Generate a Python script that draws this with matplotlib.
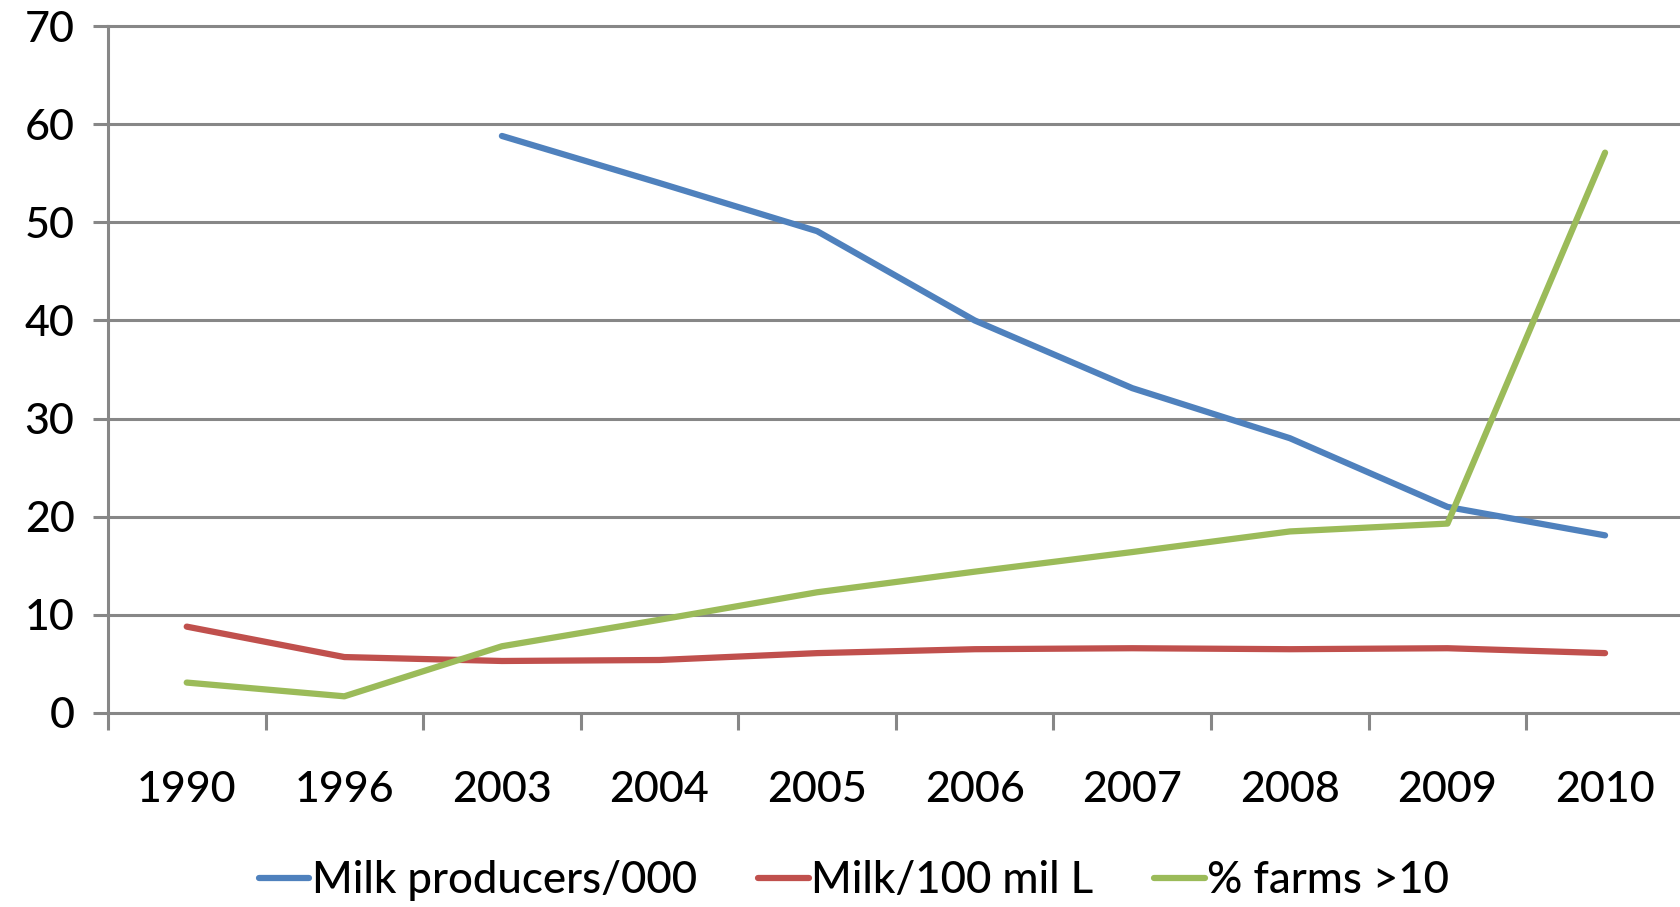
import matplotlib
matplotlib.use("Agg")
import matplotlib.pyplot as plt
import numpy as np

years = ["1990", "1996", "2003", "2004", "2005", "2006", "2007", "2008", "2009", "2010"]
milk_producers = [np.nan, np.nan, 58.8, 54.0, 49.1, 40.0, 33.1, 28.0, 21.0, 18.1]
milk_100mil = [8.8, 5.7, 5.3, 5.4, 6.1, 6.5, 6.6, 6.5, 6.6, 6.1]
farms_gt10 = [3.1, 1.7, 6.8, 9.5, 12.3, 14.4, 16.4, 18.5, 19.3, 57.1]
series_names = ["Milk producers/000", "Milk/100 mil L", "% farms >10"]
yticks = [0, 10, 20, 30, 40, 50, 60, 70]

colors = ["#4F81BD", "#C0504D", "#9BBB59"]
plt.rcParams['font.family'] = ['Lato', 'DejaVu Sans']
plt.rcParams['font.weight'] = 'medium'

fig = plt.figure(figsize=(16.81, 9.07), dpi=100)
ax = fig.add_axes([0.0642, 0.2139, 0.9375, 0.7574])

x = np.arange(len(years))
for vals, name, c in zip([milk_producers, milk_100mil, farms_gt10], series_names, colors):
    ax.plot(x, vals, color=c, lw=4.5, label=name, solid_capstyle='round', zorder=3)

ax.set_xlim(-0.5, len(years) - 0.5)
ax.set_ylim(0, 70)
ax.set_yticks(yticks)
ax.set_yticklabels([str(v) for v in yticks])
ax.set_xticks(x)
ax.set_xticklabels(years)
ax.set_xticks(np.arange(-0.5, len(years), 1.0), minor=True)

grid_c = "#878787"
for v in yticks:
    ax.axhline(v, color=grid_c, lw=2.2, zorder=1, clip_on=False)
for s in ["top", "right", "bottom"]:
    ax.spines[s].set_visible(False)
ax.spines["left"].set_color(grid_c)
ax.spines["left"].set_linewidth(2.2)

ax.tick_params(axis='y', which='major', length=11, width=2.2, color=grid_c, labelsize=31, pad=13)
ax.tick_params(axis='x', which='major', length=0, labelsize=31, pad=42)
ax.tick_params(axis='x', which='minor', length=12, width=2.2, color=grid_c)

fig.legend(loc='center', bbox_to_anchor=(0.508, 0.029), ncol=3, frameon=False,
           fontsize=31.5, handlelength=1.16, handletextpad=0.05, columnspacing=1.4)

fig.savefig("out.png", dpi=100)
